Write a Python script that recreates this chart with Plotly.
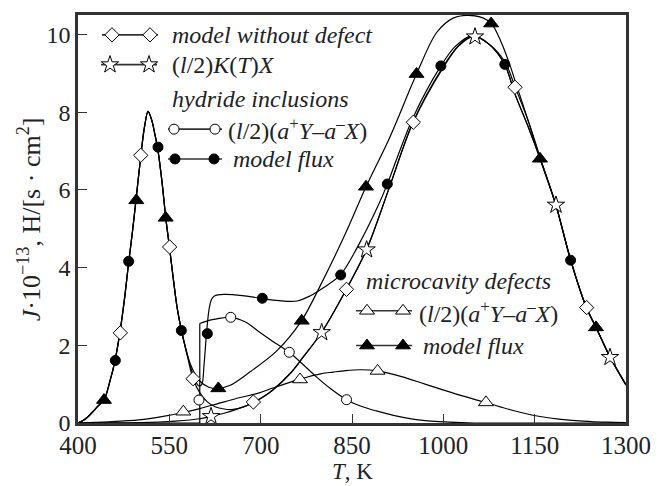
import plotly.graph_objects as go

# ---------------- data ----------------
# common low-temperature peak shared by the three "model" curves
LOW_T = [400, 411, 422, 432, 443, 452, 461, 469, 476, 483, 490, 496, 503, 509, 515,
         521, 526, 531, 538, 544, 550, 557, 563, 570]
LOW_J = [0.0, 0.09, 0.25, 0.42, 0.6, 1.05, 1.62, 2.35, 3.15, 4.1, 5.0, 5.85, 6.85, 7.6, 8.02,
         7.8, 7.45, 7.05, 6.2, 5.3, 4.55, 3.65, 2.95, 2.38]

# common high-temperature tail
TAIL_T = [1185, 1209, 1235, 1251, 1274, 1300]
TAIL_J = [5.6, 4.2, 2.97, 2.45, 1.69, 0.98]

# model without defect (diamonds)
DIA_T = LOW_T + [580, 589, 600, 612, 625, 640, 655, 671, 688, 705, 720, 750, 770, 800, 841,
                 874, 910, 950, 1000, 1025, 1048, 1075, 1101, 1118, 1140, 1159] + TAIL_T
DIA_J = LOW_J + [1.7, 1.14, 0.78, 0.55, 0.42, 0.36, 0.35, 0.41, 0.53, 0.68, 0.85, 1.3, 1.7, 2.33, 3.45,
                 4.47, 6.0, 7.74, 9.18, 9.72, 9.97, 9.75, 9.3, 8.64, 7.75, 6.83] + TAIL_J
DIA_MT = [469.5, 503, 550.5, 589, 688, 841, 950.7, 1117.7, 1235.4]
DIA_MJ = [2.32, 6.89, 4.53, 1.14, 0.54, 3.44, 7.74, 8.64, 2.97]

# (l/2)K(T)X (stars)
STAR_T = [400, 500, 560, 600, 618, 640, 660, 688, 705, 720, 750, 770, 800, 841, 874, 910, 950,
          1000, 1025, 1050, 1075, 1101, 1118, 1140, 1159] + TAIL_T
STAR_J = [0.0, 0.01, 0.05, 0.11, 0.17, 0.25, 0.35, 0.52, 0.68, 0.85, 1.3, 1.7, 2.33, 3.45, 4.46, 6.0, 7.72,
          9.15, 9.7, 9.95, 9.75, 9.22, 8.45, 7.6, 6.8] + TAIL_J
STAR_MT = [618.5, 800.2, 874, 1052, 1185, 1273.7]
STAR_MJ = [0.17, 2.33, 4.46, 9.94, 5.61, 1.69]

# hydride inclusions: (l/2)(a+Y - a-X) (open circles)
HC_STEP_T = [400, 600, 600]
HC_STEP_J = [0.0, 0.0, 2.56]
HC_T = [600, 615, 628, 651, 675, 699, 720, 747, 770, 792, 815, 841, 865, 890, 920, 950, 980,
        1010, 1050, 1150, 1300]
HC_J = [2.56, 2.64, 2.68, 2.72, 2.6, 2.33, 2.1, 1.82, 1.5, 1.18, 0.88, 0.6, 0.43, 0.31, 0.19, 0.1, 0.05,
        0.02, 0.0, 0.0, 0.0]
HC_MT = [598.7, 650.8, 747, 841]
HC_MJ = [0.59, 2.72, 1.82, 0.60]

# hydride inclusions: model flux (filled circles)
HF_T = LOW_T + [580, 590, 598, 603, 607, 611, 615, 619, 624, 640, 670, 700, 730, 760, 781, 803, 831,
                858, 896, 908, 950, 996, 1020, 1048, 1075, 1101, 1118, 1140, 1159] + TAIL_T
HF_J = LOW_J + [1.72, 1.2, 0.96, 0.98, 1.5, 2.3, 2.9, 3.17, 3.27, 3.31, 3.28, 3.21, 3.15, 3.14, 3.27, 3.48, 3.81,
                4.5, 5.7, 6.15, 7.85, 9.19, 9.7, 9.97, 9.75, 9.22, 8.45, 7.6, 6.8] + TAIL_J
HF_MT = [461.3, 483.2, 531.4, 569.7, 612.4, 702.7, 831.4, 908, 996, 1101, 1209]
HF_MJ = [1.61, 4.16, 7.10, 2.38, 2.30, 3.21, 3.81, 6.15, 9.19, 9.23, 4.19]

# microcavity defects: (l/2)(a+Y - a-X) (open triangles)
MC_T = [400, 450, 500, 540, 573, 600, 630, 660, 699, 720, 765, 800, 819, 840, 863, 892, 930, 970,
        1020, 1071, 1110, 1147, 1190, 1229, 1270, 1300]
MC_J = [0.0, 0.03, 0.08, 0.17, 0.27, 0.37, 0.5, 0.63, 0.78, 0.9, 1.13, 1.27, 1.31, 1.35, 1.37, 1.34, 1.2, 1.0,
        0.75, 0.52, 0.34, 0.2, 0.1, 0.05, 0.02, 0.01]
MC_MT = [573, 764.6, 892, 1070]
MC_MJ = [0.29, 1.12, 1.34, 0.53]

# microcavity defects: model flux (filled triangles)
MF_T = LOW_T + [585, 600, 615, 630, 650, 682, 726, 767, 800, 840, 873, 912, 956, 989, 1016, 1038,
                1060, 1079, 1095, 1109, 1120, 1140, 1159] + TAIL_T
MF_J = LOW_J + [1.5, 1.08, 0.92, 0.89, 0.97, 1.31, 1.85, 2.63, 3.6, 4.9, 6.08, 7.35, 8.98, 10.05, 10.42, 10.49,
                10.45, 10.28, 9.8, 9.23, 8.7, 7.75, 6.8] + TAIL_J
MF_MT = [442.7, 495.8, 544, 630.5, 767.4, 873, 956, 1078.5, 1158.7, 1250.7]
MF_MJ = [0.59, 5.73, 5.28, 0.89, 2.63, 6.08, 8.98, 10.28, 6.80, 2.46]

X_TICKS = [400, 550, 700, 850, 1000, 1150, 1300]
Y_TICKS = [0, 2, 4, 6, 8, 10]

# ---------------- styles ----------------
FONT = "Liberation Serif"
INK = "#222222"
FRAME = "#333333"
LW = 1.2
LEG_SIZE = 24

MK = {
    "dia": dict(symbol="diamond", size=11, color="white", line=dict(color="black", width=1)),
    "star": dict(symbol="star", size=13, color="white", line=dict(color="black", width=1)),
    "oc": dict(symbol="circle", size=10, color="white", line=dict(color="black", width=1)),
    "fc": dict(symbol="circle", size=10, color="black", line=dict(color="black", width=1)),
    "ot": dict(symbol="triangle-up", size=13, color="white", line=dict(color="black", width=1)),
    "ft": dict(symbol="triangle-up", size=13, color="black", line=dict(color="black", width=1)),
}

fig = go.Figure()


def curve(x, y, shape="spline"):
    fig.add_trace(go.Scatter(x=x, y=y, mode="lines", showlegend=False, hoverinfo="skip",
                             line=dict(color="black", width=LW, shape=shape, smoothing=0.9)))


def marks(x, y, key):
    fig.add_trace(go.Scatter(x=x, y=y, mode="markers", showlegend=False, hoverinfo="skip",
                             marker=MK[key]))


curve(MC_T, MC_J)
curve(HC_STEP_T, HC_STEP_J, shape="linear")
curve(HC_T, HC_J)
curve(STAR_T, STAR_J)
curve(DIA_T, DIA_J)
curve(HF_T, HF_J)
curve(MF_T, MF_J)

marks(MC_MT, MC_MJ, "ot")
marks(HC_MT, HC_MJ, "oc")
marks(STAR_MT, STAR_MJ, "star")
marks(DIA_MT, DIA_MJ, "dia")
marks(HF_MT, HF_MJ, "fc")
marks(MF_MT, MF_MJ, "ft")

# ---------------- hand-drawn legend (pixel-like overlay axes) ----------------
LEG_ROWS = [
    # (line x0, line x1, y, marker xs, marker key)
    (102, 158, 32, [112, 150], "dia"),
    (101, 157, 62, [110, 149], "star"),
    (168, 222, 127, [174, 215], "oc"),
    (168, 222, 157, [175, 214], "fc"),
    (356, 412, 310, [367, 403], "ot"),
    (356, 412, 345, [367, 403], "ft"),
]
for x0, x1, yy, mx, key in LEG_ROWS:
    fig.add_trace(go.Scatter(x=[x0, x1], y=[yy, yy], mode="lines", xaxis="x2", yaxis="y2",
                             showlegend=False, hoverinfo="skip",
                             line=dict(color="#333333", width=1.6)))
    fig.add_trace(go.Scatter(x=mx, y=[yy, yy], mode="markers", xaxis="x2", yaxis="y2",
                             showlegend=False, hoverinfo="skip", marker=MK[key]))

FORMULA = "(<i>l</i>/2)(<i>a</i><sup>+</sup><i>Y</i>–<i>a</i><sup>–</sup><i>X</i>)"
LEG_TEXT = [
    (170, 32, "<i>model without defect</i>"),
    (170, 62, "(<i>l</i>/2)<i>K</i>(<i>T</i>)<i>X</i>"),
    (170, 97, "<i>hydride inclusions</i>"),
    (226, 127, FORMULA),
    (231, 157, "<i>model flux</i>"),
    (364, 280, "<i>microcavity defects</i>"),
    (417, 311, FORMULA),
    (421, 345, "<i>model flux</i>"),
]
annotations = []
for ax_, ay_, txt in LEG_TEXT:
    annotations.append(dict(x=ax_, y=ay_, xref="x2", yref="y2", text=txt, showarrow=False,
                            xanchor="left", yanchor="middle",
                            font=dict(family=FONT, size=LEG_SIZE, color=INK)))

# axis titles (paper coordinates so they are not hidden outside the axis range)
annotations.append(dict(x=-0.089, y=0.50, xref="paper", yref="paper", showarrow=False, textangle=-90,
                        text="<i>J</i>·10<sup>−13</sup>, H/[s · cm<sup>2</sup>]",
                        xanchor="center", yanchor="middle",
                        font=dict(family=FONT, size=26, color=INK)))
annotations.append(dict(x=0.5, y=-0.12, xref="paper", yref="paper", showarrow=False,
                        text="<i>T</i>, K", xanchor="center", yanchor="middle",
                        font=dict(family=FONT, size=23, color=INK)))

axis_common = dict(showgrid=False, zeroline=False, showline=True, linecolor=FRAME, linewidth=2.5,
                   mirror=True, ticks="inside", ticklen=9, tickwidth=1.3, tickcolor=FRAME)

fig.update_layout(
    width=663, height=486,
    margin=dict(l=78, r=37, t=12, b=63),
    paper_bgcolor="white", plot_bgcolor="white",
    showlegend=False,
    xaxis=dict(range=[400, 1300], tickvals=X_TICKS, ticktext=[str(v) for v in X_TICKS],
               ticklabelstandoff=-2, tickfont=dict(family=FONT, size=25, color=INK), **axis_common),
    yaxis=dict(range=[0, 10.5], tickvals=Y_TICKS, ticktext=[str(v) for v in Y_TICKS],
               tickfont=dict(family=FONT, size=24, color=INK), **axis_common),
    xaxis2=dict(range=[78, 626], overlaying="x", anchor="y2", visible=False),
    yaxis2=dict(range=[423, 12], overlaying="y", anchor="x2", visible=False),
    annotations=annotations,
)

fig.write_html("out.html")
